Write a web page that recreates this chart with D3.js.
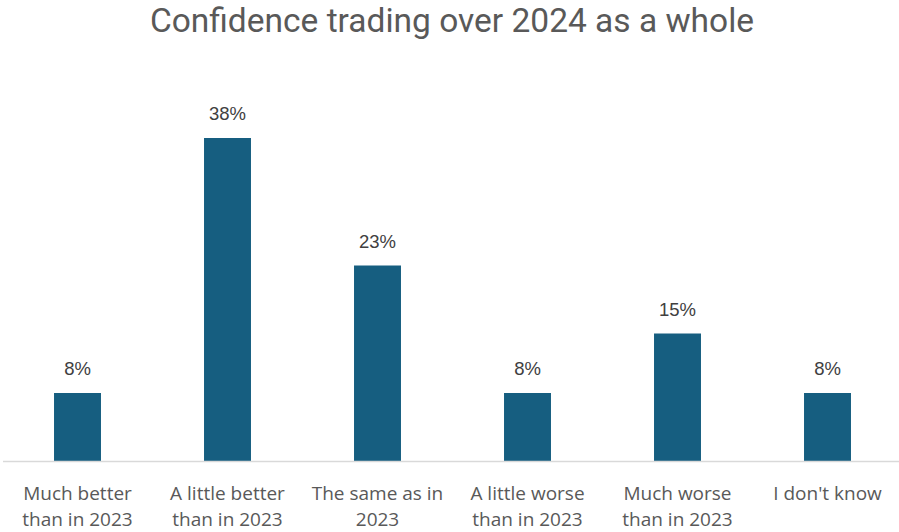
<!DOCTYPE html>
<html>
<head>
<meta charset="utf-8">
<script src="https://cdn.jsdelivr.net/npm/d3@7"></script>
<style>
  html, body { margin: 0; padding: 0; background: #ffffff; }
  svg { display: block; }
  text { font-family: Roboto, "Open Sans", sans-serif; }
</style>
</head>
<body>
<svg id="chart" width="899" height="532"></svg>
<script>
// Survey answers about trading confidence across 2024
const categories = [
  ["Much better", "than in 2023"],
  ["A little better", "than in 2023"],
  ["The same as in", "2023"],
  ["A little worse", "than in 2023"],
  ["Much worse", "than in 2023"],
  ["I don't know"]
];
const values = [8, 38, 23, 8, 15, 8];
const title = "Confidence trading over 2024 as a whole";

const svg = d3.select("#chart");
const baseY = 461;

const keys = categories.map((c, i) => i);

const x = d3.scaleBand()
  .domain(keys)
  .range([2.5, 902.5])
  .paddingInner(0.687)
  .paddingOuter(0.3435);

const y = d3.scaleLinear()
  .domain([0, 40])
  .range([baseY, baseY - 340]);

// Title
svg.append("text")
  .attr("x", 452)
  .attr("y", 32)
  .attr("text-anchor", "middle")
  .attr("fill", "#595959")
  .style("font-family", "Roboto, sans-serif")
  .style("font-size", "33.5px")
  .style("font-weight", 400)
  .text(title);

// Bars
svg.append("g")
  .selectAll("rect")
  .data(values)
  .join("rect")
  .attr("x", (d, i) => x(i))
  .attr("width", x.bandwidth())
  .attr("y", d => y(d))
  .attr("height", d => baseY - y(d))
  .attr("fill", "#165E80");

// Value labels
svg.append("g")
  .selectAll("text")
  .data(values)
  .join("text")
  .attr("x", (d, i) => x(i) + x.bandwidth() / 2)
  .attr("y", d => y(d) - 18)
  .attr("text-anchor", "middle")
  .attr("fill", "#404040")
  .style("font-family", "'Liberation Sans', Arial, sans-serif")
  .style("font-size", "18.5px")
  .text(d => d + "%");

// Category axis
const axis = svg.append("g")
  .attr("transform", `translate(0,${baseY})`)
  .call(d3.axisBottom(x).tickSize(0).tickFormat(""));
axis.select(".domain")
  .attr("stroke", "#d9d9d9")
  .attr("stroke-width", 1.3);

const labels = svg.append("g")
  .selectAll("text")
  .data(categories)
  .join("text")
  .attr("x", (d, i) => x(i) + x.bandwidth() / 2)
  .attr("y", 500)
  .attr("text-anchor", "middle")
  .attr("fill", "#595959")
  .style("font-family", "'Open Sans', sans-serif")
  .style("font-size", "19px");

labels.selectAll("tspan")
  .data(d => d)
  .join("tspan")
  .attr("x", function () { return d3.select(this.parentNode).attr("x"); })
  .attr("dy", (d, j) => j === 0 ? 0 : 26)
  .text(d => d);
</script>
</body>
</html>
